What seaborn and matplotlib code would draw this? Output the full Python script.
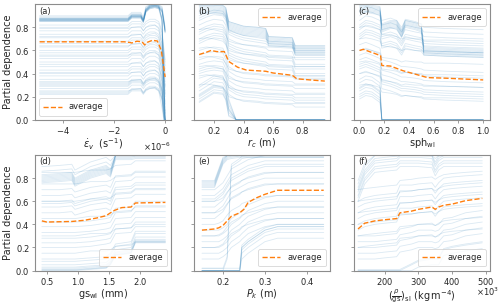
import numpy as np
import pandas as pd
import matplotlib
matplotlib.use("Agg")
import matplotlib.pyplot as plt
import seaborn as sns

# ---------------- data ----------------
# (a) strain rate
a_x = [-4.9e-6, -1.45e-6, -1.3e-6, -0.95e-6, -0.85e-6, -0.75e-6, -0.6e-6, -0.4e-6, -0.25e-6, -0.12e-6, -0.05e-6, 0.0]
a_shape_top_drop = [0, 0, 0.03, 0.03, -0.01, 0.08, 0.11, 0.12, 0.11, 0.0, -0.55, -0.88]
a_lv_top_drop = [0.85, 0.86, 0.865, 0.87, 0.875, 0.88]
a_shape_top_keep = [0, 0, 0.03, 0.03, -0.01, 0.08, 0.11, 0.12, 0.11, 0.08, -0.02, -0.1]
a_lv_top_keep = [0.852, 0.857, 0.86, 0.863, 0.867, 0.87, 0.875, 0.88, 0.89, 0.9]
a_shape_mid = [0, 0, 0.03, 0.03, 0.0, 0.03, 0.05, 0.05, 0.03, -0.05, -0.2, -0.3]
a_lv_mid = [0.22, 0.23, 0.24, 0.27, 0.29, 0.3, 0.31, 0.32, 0.35, 0.38, 0.41, 0.43, 0.46, 0.5,
            0.53, 0.55, 0.58, 0.6, 0.63, 0.66, 0.68, 0.71, 0.74, 0.77, 0.8, 0.82]
a_shape_mid2 = [0, 0, 0.01, 0.02, -0.02, 0.01, 0.02, 0.03, 0.0, -0.15, -0.4, -0.5]
a_lv_mid2 = [0.25, 0.33, 0.4, 0.48, 0.56, 0.64, 0.72, 0.79]
a_avg_x = [-4.9e-6, -1.6e-6, -1.4e-6, -1.3e-6, -1.1e-6, -0.9e-6, -0.8e-6, -0.7e-6, -0.5e-6, -0.3e-6, -0.15e-6, -0.05e-6, 0.0]
a_avg_y = [0.675, 0.675, 0.67, 0.665, 0.68, 0.675, 0.648, 0.67, 0.688, 0.682, 0.6, 0.45, 0.37]

# (b) r_c
b_x = [0.1, 0.15, 0.2, 0.26, 0.28, 0.3, 0.35, 0.4, 0.5, 0.55, 0.57, 0.73, 0.75, 0.85, 0.95]
b_shape_top = [0, 0.0, 0.0, -0.01, -0.03, -0.15, -0.17, -0.19, -0.2, -0.21, -0.28, -0.29, -0.36, -0.36, -0.36]
b_lv_top = [0.92, 0.93, 0.94, 0.95, 0.96, 0.97, 0.98, 0.99, 1.0, 1.0]
b_shape_upper = [0, 0.03, 0.05, 0.04, 0.0, -0.12, -0.15, -0.17, -0.19, -0.2, -0.22, -0.23, -0.3, -0.3, -0.3]
b_lv_upper = [0.66, 0.68, 0.7, 0.74, 0.76, 0.78, 0.82, 0.86, 0.88, 0.9]
b_shape_mid = [0, 0.02, 0.03, 0.02, -0.04, -0.14, -0.18, -0.2, -0.21, -0.22, -0.22, -0.23, -0.25, -0.25, -0.25]
b_lv_mid = [0.36, 0.4, 0.42, 0.44, 0.48, 0.52, 0.56, 0.6]
b_shape_mid2 = [0, 0.01, 0.0, -0.02, -0.05, -0.1, -0.12, -0.13, -0.14, -0.15, -0.15, -0.16, -0.16, -0.16, -0.16]
b_lv_mid2 = [0.3, 0.38, 0.46, 0.54, 0.62, 0.7, 0.78]
b_shape_low = [0, 0.04, 0.08, 0.07, 0.02, -0.12, -0.3, -0.35, -0.35, -0.35, -0.35, -0.35, -0.35, -0.35, -0.35]
b_lv_low = [0.15, 0.16, 0.18, 0.2, 0.21, 0.22, 0.25, 0.28, 0.3]
b_avg_x = [0.1, 0.15, 0.18, 0.22, 0.27, 0.3, 0.33, 0.36, 0.42, 0.55, 0.6, 0.73, 0.76, 0.85, 0.95]
b_avg_y = [0.565, 0.585, 0.6, 0.59, 0.59, 0.505, 0.48, 0.455, 0.43, 0.42, 0.405, 0.385, 0.355, 0.345, 0.335]

# (c) sph_wl
c_x = [0.0, 0.05, 0.1, 0.165, 0.18, 0.25, 0.3, 0.34, 0.37, 0.45, 0.5, 0.52, 0.7, 1.0]
c_shape_top = [0, 0, -0.01, -0.02, -0.17, -0.14, -0.14, -0.22, -0.13, -0.15, -0.17, -0.37, -0.38, -0.39]
c_lv_top = [0.93, 0.94, 0.95, 0.96, 0.97, 0.98, 0.99, 1.0]
c_shape_upper = [0, 0.04, 0.03, 0.0, -0.08, -0.06, -0.08, -0.14, -0.08, -0.1, -0.11, -0.14, -0.15, -0.16]
c_lv_upper = [0.7, 0.72, 0.74, 0.78, 0.8, 0.82, 0.86, 0.9, 0.94]
c_shape_mid = [0, 0.02, 0.0, -0.03, -0.13, -0.15, -0.17, -0.19, -0.19, -0.2, -0.21, -0.22, -0.23, -0.24]
c_lv_mid = [0.4, 0.44, 0.46, 0.48, 0.52, 0.56, 0.6, 0.65]
c_shape_mid2 = [0, 0.01, 0.0, -0.02, -0.06, -0.07, -0.08, -0.1, -0.09, -0.1, -0.1, -0.11, -0.11, -0.12]
c_lv_mid2 = [0.3, 0.4, 0.5, 0.6, 0.7, 0.8]
c_shape_low = [0, 0.03, 0.02, -0.03, -0.35, -0.35, -0.35, -0.35, -0.35, -0.35, -0.35, -0.35, -0.35, -0.35]
c_lv_low = [0.18, 0.2, 0.22, 0.25, 0.27, 0.28, 0.32, 0.35]
c_avg_x = [0.0, 0.03, 0.08, 0.12, 0.17, 0.18, 0.25, 0.3, 0.35, 0.4, 0.45, 0.5, 0.55, 0.7, 1.0]
c_avg_y = [0.6, 0.61, 0.59, 0.575, 0.555, 0.47, 0.465, 0.445, 0.425, 0.41, 0.395, 0.38, 0.365, 0.36, 0.345]

# (d) gs_wl
d_x = [0.42, 0.7, 0.9, 0.95, 1.2, 1.45, 1.52, 1.6, 1.85, 1.92, 2.4]
d_shape_top = [0, 0.01, 0.02, -0.03, 0.04, 0.08, 0.05, 0.2, 0.2, 0.21, 0.21]
d_lv_top = [0.76, 0.77, 0.78, 0.79, 0.8, 0.81, 0.82, 0.83, 0.86, 0.9]
d_shape_upper = [0, 0.0, 0.01, -0.02, 0.02, 0.04, 0.02, 0.12, 0.13, 0.16, 0.16]
d_lv_upper = [0.5, 0.55, 0.58, 0.6, 0.65, 0.7]
d_shape_mid = [0, 0, 0.0, 0.0, 0.01, 0.03, 0.04, 0.12, 0.13, 0.18, 0.18]
d_lv_mid = [0.2, 0.24, 0.28, 0.33, 0.38, 0.42]
d_shape_mid2 = [0, 0, 0, 0, 0.02, 0.02, 0.03, 0.06, 0.07, 0.1, 0.1]
d_lv_mid2 = [0.15, 0.3, 0.45, 0.6, 0.75, 0.85]
d_shape_low = [0, 0, 0, 0, 0.01, 0.02, 0.05, 0.13, 0.15, 0.24, 0.24]
d_lv_low = [0.0, 0.005, 0.01, 0.02, 0.03, 0.05, 0.08, 0.1]
d_avg_x = [0.42, 0.5, 0.9, 1.1, 1.3, 1.45, 1.52, 1.58, 1.7, 1.85, 1.92, 2.4]
d_avg_y = [0.43, 0.42, 0.425, 0.435, 0.455, 0.475, 0.5, 0.52, 0.545, 0.55, 0.585, 0.59]

# (e) P_k
e_x = [0.15, 0.18, 0.19, 0.2, 0.21, 0.22, 0.24, 0.245, 0.26, 0.28, 0.3, 0.33, 0.44]
e_shape_top = [0, 0.0, 0.1, 0.2, 0.24, 0.25, 0.26, 0.26, 0.26, 0.26, 0.26, 0.26, 0.26]
e_lv_top = [0.72, 0.73, 0.74, 0.75, 0.76, 0.77, 0.78]
e_shape_upper = [0, 0, 0.03, 0.06, 0.12, 0.18, 0.22, 0.23, 0.26, 0.28, 0.3, 0.3, 0.3]
e_lv_upper = [0.45, 0.5, 0.55, 0.6, 0.62, 0.65, 0.7]
e_shape_mid = [0, 0, 0.0, 0.02, 0.05, 0.1, 0.15, 0.17, 0.22, 0.25, 0.28, 0.3, 0.3]
e_lv_mid = [0.1, 0.15, 0.2, 0.25, 0.3, 0.35]
e_shape_mid2 = [0, 0, 0.01, 0.03, 0.08, 0.12, 0.16, 0.18, 0.2, 0.22, 0.24, 0.25, 0.25]
e_lv_mid2 = [0.2, 0.3, 0.4, 0.5, 0.6]
e_shape_zero = [0, 0, 0, 0, 0, 0, 0, 0.2, 0.25, 0.3, 0.35, 0.38, 0.38]
e_lv_zero = [0.0, 0.0, -0.05, 0.02, -0.1, -0.02]
e_shape_jump = [0, 0, 0, 0, 0.1, 0.9, 0.95, 0.97, 0.98, 0.98, 0.98, 0.98, 0.98]
e_lv_jump = [0.0, 0.02]
e_avg_x = [0.15, 0.18, 0.19, 0.2, 0.21, 0.22, 0.24, 0.25, 0.26, 0.28, 0.3, 0.33, 0.44]
e_avg_y = [0.35, 0.36, 0.37, 0.39, 0.43, 0.47, 0.5, 0.53, 0.59, 0.63, 0.66, 0.695, 0.695]

# (f) (rho/gs)_sl
f_x = [120e3, 140e3, 170e3, 200e3, 235e3, 245e3, 280e3, 300e3, 340e3, 350e3, 360e3, 375e3, 400e3, 440e3, 490e3]
f_shape_top = [0, 0.15, 0.25, 0.26, 0.27, 0.3, 0.3, 0.3, 0.29, 0.22, 0.27, 0.3, 0.3, 0.3, 0.3]
f_lv_top = [0.6, 0.63, 0.65, 0.68, 0.7, 0.72, 0.75, 0.78]
f_shape_upper = [0, 0.03, 0.05, 0.06, 0.07, 0.14, 0.14, 0.15, 0.16, 0.12, 0.16, 0.2, 0.21, 0.22, 0.23]
f_lv_upper = [0.35, 0.4, 0.45, 0.5, 0.55, 0.6]
f_shape_mid = [0, 0.0, 0.0, 0.01, 0.02, 0.06, 0.08, 0.1, 0.1, 0.09, 0.1, 0.15, 0.16, 0.2, 0.22]
f_lv_mid = [0.1, 0.15, 0.2, 0.25, 0.3]
f_shape_mid2 = [0, 0.01, 0.02, 0.03, 0.04, 0.08, 0.09, 0.1, 0.11, 0.09, 0.11, 0.13, 0.14, 0.15, 0.16]
f_lv_mid2 = [0.2, 0.3, 0.4, 0.5, 0.6, 0.7]
f_shape_zero = [0, 0, 0, 0, 0, 0, 0.05, 0.08, 0.1, 0.1, 0.1, 0.18, 0.2, 0.22, 0.24]
f_lv_zero = [0.0, -0.05, 0.01, -0.3, -0.3, -0.3]
f_avg_x = [120e3, 140e3, 170e3, 200e3, 235e3, 245e3, 280e3, 300e3, 340e3, 350e3, 360e3, 375e3, 400e3, 440e3, 490e3]
f_avg_y = [0.36, 0.41, 0.43, 0.44, 0.45, 0.5, 0.515, 0.53, 0.55, 0.53, 0.55, 0.565, 0.575, 0.605, 0.625]

y_ticks = [0.0, 0.2, 0.4, 0.6, 0.8]
panel_letters = ["(a)", "(b)", "(c)", "(d)", "(e)", "(f)"]
x_labels = [r"$\dot{\varepsilon}_v$  (s$^{-1}$)", r"$r_c$ (m)", r"sph$_{\mathrm{wl}}$",
            r"gs$_{\mathrm{wl}}$ (mm)", r"$P_k$ (m)",
            r"$(\frac{\rho}{\mathrm{gs}})_{\mathrm{sl}}$ (kg$\,$m$^{-4}$)"]

# ---------------- helpers ----------------
def ice_frame(x, groups):
    rows = []
    uid = 0
    for shape, levels in groups:
        for lv in levels:
            for xi, s in zip(x, shape):
                rows.append((uid, xi, min(max(lv + s, 0.0), 0.995)))
            uid += 1
    return pd.DataFrame(rows, columns=["unit", "x", "y"])

panels = [
    (a_x, [(a_shape_top_drop, a_lv_top_drop), (a_shape_top_keep, a_lv_top_keep), (a_shape_mid, a_lv_mid),
           (a_shape_mid2, a_lv_mid2)],
     a_avg_x, a_avg_y, (-5.08e-6, 0.23e-6), None, "lower left"),
    (b_x, [(b_shape_top, b_lv_top), (b_shape_upper, b_lv_upper), (b_shape_mid, b_lv_mid),
           (b_shape_mid2, b_lv_mid2), (b_shape_low, b_lv_low)],
     b_avg_x, b_avg_y, (0.065, 0.985), [0.2, 0.4, 0.6, 0.8], "upper right"),
    (c_x, [(c_shape_top, c_lv_top), (c_shape_upper, c_lv_upper), (c_shape_mid, c_lv_mid),
           (c_shape_mid2, c_lv_mid2), (c_shape_low, c_lv_low)],
     c_avg_x, c_avg_y, (-0.045, 1.055), [0.0, 0.2, 0.4, 0.6, 0.8, 1.0], "upper right"),
    (d_x, [(d_shape_top, d_lv_top), (d_shape_upper, d_lv_upper), (d_shape_mid, d_lv_mid),
           (d_shape_mid2, d_lv_mid2), (d_shape_low, d_lv_low)],
     d_avg_x, d_avg_y, (0.31, 2.49), [0.5, 1.0, 1.5, 2.0], "lower right"),
    (e_x, [(e_shape_top, e_lv_top), (e_shape_upper, e_lv_upper), (e_shape_mid, e_lv_mid),
           (e_shape_mid2, e_lv_mid2), (e_shape_zero, e_lv_zero), (e_shape_jump, e_lv_jump)],
     e_avg_x, e_avg_y, (0.131, 0.455), [0.2, 0.3, 0.4], "lower right"),
    (f_x, [(f_shape_top, f_lv_top), (f_shape_upper, f_lv_upper), (f_shape_mid, f_lv_mid),
           (f_shape_mid2, f_lv_mid2), (f_shape_zero, f_lv_zero)],
     f_avg_x, f_avg_y, (108e3, 513e3), [200e3, 300e3, 400e3, 500e3], "lower right"),
]

# ---------------- style ----------------
sns.set_style("ticks")
plt.rcParams.update({
    "font.family": ["DejaVu Sans"],
    "axes.edgecolor": "#8c8c8c",
    "axes.linewidth": 0.8,
    "xtick.color": "#8c8c8c",
    "ytick.color": "#8c8c8c",
    "xtick.labelcolor": "#262626",
    "ytick.labelcolor": "#262626",
    "xtick.labelsize": 6,
    "ytick.labelsize": 6,
    "xtick.major.size": 2.5,
    "ytick.major.size": 2.5,
    "xtick.major.width": 0.6,
    "ytick.major.width": 0.6,
    "axes.labelsize": 7,
    "axes.labelcolor": "#262626",
    "axes.formatter.use_mathtext": True,
    "legend.fontsize": 6,
})

fig = plt.figure(figsize=(5.0, 3.04), dpi=100)
lefts = [0.07, 0.388, 0.708]
bottoms = [0.606, 0.11]
w, h = 0.272, 0.38

for i, (x, groups, ax_x, ax_y, xlim, xticks, legloc) in enumerate(panels):
    r, c = divmod(i, 3)
    ax = fig.add_axes([lefts[c], bottoms[r], w, h])
    df = ice_frame(x, groups)
    sns.lineplot(data=df, x="x", y="y", units="unit", estimator=None, color="#1f77b4",
                 alpha=0.16, lw=0.6, ax=ax, legend=False)
    sns.lineplot(x=ax_x, y=ax_y, color="#ff7f0e", linestyle="--", lw=1.0, ax=ax, label="average")
    ax.set_xlim(*xlim)
    ax.set_ylim(0, 1.0)
    ax.set_yticks(y_ticks)
    if xticks is not None:
        ax.set_xticks(xticks)
    if i == 5:
        ax.ticklabel_format(axis="x", style="sci", scilimits=(3, 3), useMathText=True)
        ax.xaxis.get_offset_text().set_visible(False)
        ax.text(0.985, -0.13, r"$\times10^{3}$", transform=ax.transAxes, ha="center", va="top",
                fontsize=6, color="#262626")
    ax.xaxis.get_offset_text().set_fontsize(6)
    ax.set_xlabel(x_labels[i], labelpad=0)
    if c == 0:
        ax.set_ylabel("Partial dependence", labelpad=1)
    else:
        ax.set_ylabel("")
        ax.set_yticklabels([])
    ax.tick_params(pad=1.5)
    ax.text(0.03, 0.98, panel_letters[i], transform=ax.transAxes, ha="left", va="top",
            fontsize=6, color="#262626")
    leg = ax.legend(loc=legloc, handlelength=2.2, borderpad=0.5, frameon=True)
    leg.get_frame().set_linewidth(0.6)

fig.savefig("out.png", dpi=100)
